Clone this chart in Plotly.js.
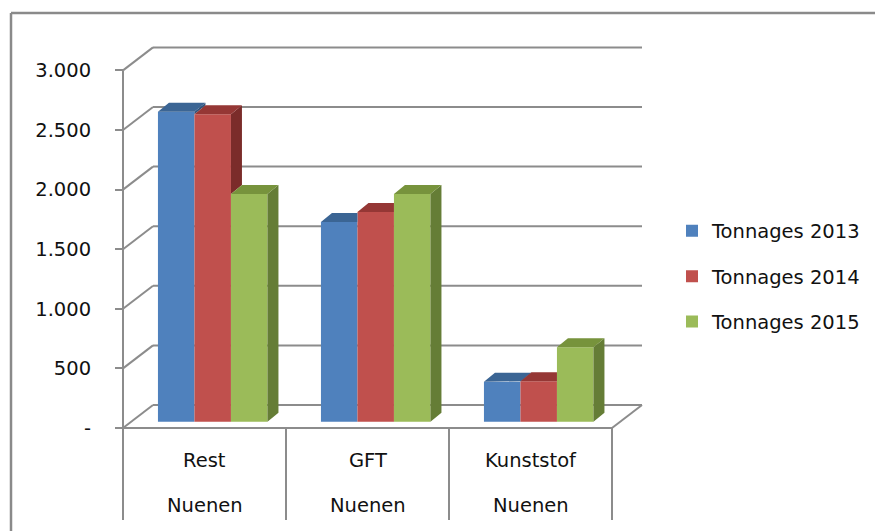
<!DOCTYPE html>
<html>
<head>
<meta charset="utf-8">
<script src="https://cdn.plot.ly/plotly-3.0.1.min.js"></script>
<style>html,body{margin:0;padding:0;background:#fff;}#chart{width:875px;height:531px;}</style>
</head>
<body>
<div id="chart"></div>
<script>
// ---- data ----
const categories = ['Rest', 'GFT', 'Kunststof'];
const groupLabels = ['Nuenen', 'Nuenen', 'Nuenen'];
const seriesNames = ['Tonnages 2013', 'Tonnages 2014', 'Tonnages 2015'];
const tonnages2013 = [2600, 1675, 335];
const tonnages2014 = [2580, 1760, 340];
const tonnages2015 = [1910, 1910, 625];
const yTickValues = [0, 500, 1000, 1500, 2000, 2500, 3000];
const yTickLabels = ['-', '500', '1.000', '1.500', '2.000', '2.500', '3.000'];

// ---- styling / geometry ----
const seriesValues = [tonnages2013, tonnages2014, tonnages2015];
const frontColors = ['#4F81BD', '#C0504D', '#9BBB59'];
const topColors = ['#3B6594', '#953735', '#77933C'];
const sideColors = ['#30527A', '#7B2C2A', '#657D36'];
const gridColor = '#8C8C8C';
const textColor = '#111111';
const FONT = 'DejaVu Sans, sans-serif';
const FS = 19.5;

const W = 875, H = 531;
const axisPx = 123, catPx = 163, floorPx = 428, pxPerUnit = 0.1192;
const px2x = p => p / catPx;          // horizontal pixel distance -> x units
const px2y = p => p / pxPerUnit;      // vertical pixel distance -> y units
const xRange = [(0 - axisPx) / catPx, (W - axisPx) / catPx];
const yRange = [(floorPx - H) / pxPerUnit, floorPx / pxPerUnit];
const wallDX = px2x(30), wallDY = px2y(23);
const planeDX = px2x(8.2), planeDY = px2y(6.3);
const barDX = px2x(11), barDY = px2y(9);
const barW = px2x(36.5);
const bottomVal = -px2y(520 - floorPx);
const nCat = categories.length;

const traces = [];
// front faces: real bar traces
seriesValues.forEach((vals, s) => {
  traces.push({
    type: 'bar',
    name: seriesNames[s],
    legendgroup: 'g' + s,
    x: categories.map((_, i) => i + 0.5 + planeDX + (s - 1) * barW),
    y: vals,
    base: vals.map(() => planeDY),
    width: vals.map(() => barW),
    marker: {color: frontColors[s], line: {width: 0}},
    hoverinfo: 'skip'
  });
});

// side and top faces
seriesValues.forEach((vals, s) => {
  const sx = [], sy = [], tx = [], ty = [];
  vals.forEach((v, i) => {
    const xl = i + 0.5 + planeDX + (s - 1.5) * barW;
    const xr = xl + barW;
    const base = planeDY;
    const top = base + v;
    const next = s < seriesValues.length - 1 ? base + seriesValues[s + 1][i] : null;
    // side face (visible part above right neighbour)
    const lo = next === null ? base : Math.max(next, base);
    if (lo < top) {
      sx.push(xr, xr, xr + barDX, xr + barDX, xr, null);
      sy.push(lo, top, top + barDY, lo + barDY, lo, null);
    }
    // top face, clipped by a taller right neighbour
    if (next === null || next <= top) {
      tx.push(xl, xr, xr + barDX, xl + barDX, xl, null);
      ty.push(top, top, top + barDY, top + barDY, top, null);
    } else if (next >= top + barDY) {
      tx.push(xl, xr, xr, xl + barDX, xl, null);
      ty.push(top, top, top + barDY, top + barDY, top, null);
    } else {
      const k = (next - top) / barDY;
      tx.push(xl, xr, xr, xr + barDX * k, xr + barDX, xl + barDX, xl, null);
      ty.push(top, top, next, next, top + barDY, top + barDY, top, null);
    }
  });
  traces.push({type: 'scatter', mode: 'lines', x: sx, y: sy, fill: 'toself',
    fillcolor: sideColors[s], line: {width: 0, color: sideColors[s]},
    showlegend: false, hoverinfo: 'skip'});
  traces.push({type: 'scatter', mode: 'lines', x: tx, y: ty, fill: 'toself',
    fillcolor: topColors[s], line: {width: 0, color: topColors[s]},
    showlegend: false, hoverinfo: 'skip'});
});

// shapes: walls, gridlines, floor, separators, border
const shapes = [];
const ln = (x0, y0, x1, y1) => ({type: 'line', xref: 'x', yref: 'y',
  x0, y0, x1, y1, layer: 'below', line: {color: gridColor, width: 2}});
yTickValues.forEach(v => {
  shapes.push(ln(wallDX, v + wallDY, nCat + wallDX, v + wallDY));
  shapes.push(ln(0, v, wallDX, v + wallDY));
});
shapes.push(ln(nCat, 0, nCat + wallDX, wallDY));
shapes.push(ln(0, 0, nCat, 0));
shapes.push(ln(0, yTickValues[yTickValues.length - 1], 0, bottomVal));
for (let i = 1; i <= nCat; i++) shapes.push(ln(i, 0, i, bottomVal));
// chart-area border (top and left edges visible)
shapes.push({type: 'line', xref: 'paper', yref: 'paper', x0: 11 / W, y0: 1 - 13 / H, x1: 1, y1: 1 - 13 / H,
  line: {color: '#8A8A8A', width: 2.5}});
shapes.push({type: 'line', xref: 'paper', yref: 'paper', x0: 11 / W, y0: 1 - 13 / H, x1: 11 / W, y1: 0,
  line: {color: '#8A8A8A', width: 2.5}});

// category labels
const annotations = [];
categories.forEach((c, i) => {
  annotations.push({xref: 'x', yref: 'y', x: i + 0.5, y: -px2y(460 - floorPx), text: c,
    showarrow: false, font: {family: FONT, size: FS, color: textColor}});
  annotations.push({xref: 'x', yref: 'y', x: i + 0.5, y: -px2y(505 - floorPx), text: groupLabels[i],
    showarrow: false, font: {family: FONT, size: FS, color: textColor}});
});

const layout = {
  width: W, height: H,
  margin: {l: 0, r: 0, t: 0, b: 0, pad: 0},
  paper_bgcolor: '#FFFFFF', plot_bgcolor: 'rgba(0,0,0,0)',
  barmode: 'overlay',
  showlegend: true,
  legend: {x: 0.768, xanchor: 'left', y: 0.479, yanchor: 'middle', traceorder: 'grouped',
    tracegroupgap: 17, font: {family: FONT, size: FS, color: textColor}, bgcolor: 'rgba(0,0,0,0)'},
  xaxis: {range: xRange, visible: false, fixedrange: true},
  yaxis: {range: yRange, anchor: 'free', position: axisPx / W, tickmode: 'array',
    tickvals: yTickValues, ticktext: yTickLabels, ticks: 'outside', ticklen: 8, tickwidth: 2,
    tickcolor: gridColor, showgrid: false, zeroline: false, showline: false,
    ticklabelstandoff: 20,
    tickfont: {family: FONT, size: FS, color: textColor}, fixedrange: true},
  shapes, annotations
};

Plotly.newPlot('chart', traces, layout, {displayModeBar: false, staticPlot: true});
</script>
</body>
</html>
